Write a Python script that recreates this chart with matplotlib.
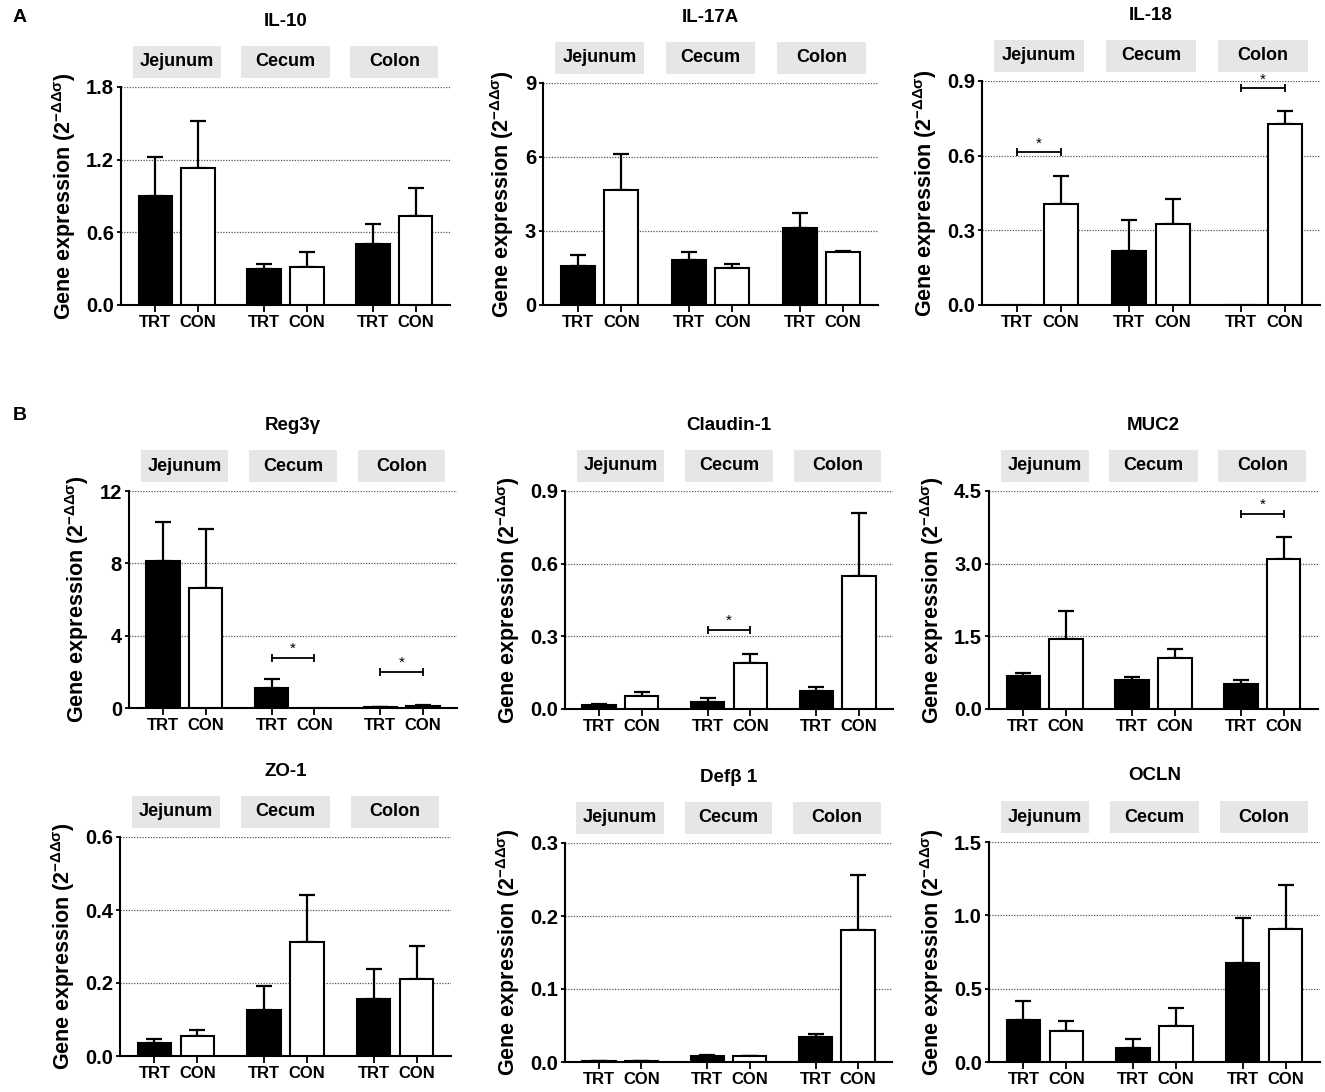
import numpy as np
import matplotlib
matplotlib.use("Agg")
import matplotlib.pyplot as plt
from matplotlib.patches import Rectangle
from matplotlib.transforms import blended_transform_factory

plt.rcParams['font.family'] = ['Liberation Sans', 'DejaVu Sans']
plt.rcParams['font.weight'] = 'bold'
plt.rcParams['axes.labelweight'] = 'bold'
plt.rcParams['mathtext.fontset'] = 'custom'
plt.rcParams['mathtext.rm'] = 'Liberation Sans:bold'
plt.rcParams['mathtext.bf'] = 'Liberation Sans:bold'
plt.rcParams['mathtext.default'] = 'bf'

# data
genes = ['IL-10', 'IL-17A', 'IL-18', 'Reg3γ', 'Claudin-1', 'MUC2', 'ZO-1', 'Defβ 1', 'OCLN']
sites = ['Jejunum', 'Cecum', 'Colon']
groups = ['TRT', 'CON']

trt_mean = [[0.90, 0.295, 0.50], [1.60, 1.82, 3.14], [0.0, 0.218, 0.0],
            [8.12, 1.12, 0.06], [0.018, 0.029, 0.074], [0.688, 0.599, 0.516],
            [0.0365, 0.125, 0.156], [0.0008, 0.0082, 0.0349], [0.287, 0.098, 0.674]]
trt_sem = [[0.325, 0.044, 0.166], [0.42, 0.34, 0.58], [0.0, 0.123, 0.0],
           [2.14, 0.51, 0.01], [0.002, 0.018, 0.017], [0.055, 0.069, 0.076],
           [0.0105, 0.067, 0.083], [0.0002, 0.0008, 0.0036], [0.130, 0.057, 0.305]]
con_mean = [[1.134, 0.317, 0.737], [4.68, 1.52, 2.14], [0.407, 0.327, 0.726],
            [6.65, 0.02, 0.13], [0.055, 0.189, 0.550], [1.452, 1.060, 3.097],
            [0.054, 0.313, 0.210], [0.0008, 0.008, 0.1805], [0.212, 0.244, 0.908]]
con_sem = [[0.386, 0.118, 0.232], [1.44, 0.15, 0.05], [0.111, 0.099, 0.053],
           [3.24, 0.0, 0.05], [0.015, 0.039, 0.258], [0.564, 0.179, 0.461],
           [0.016, 0.127, 0.092], [0.0002, 0.0007, 0.0761], [0.068, 0.127, 0.296]]

y_max = [1.8, 9, 0.9, 12, 0.9, 4.5, 0.6, 0.3, 1.5]
y_fmt = ['%.1f', '%d', '%.1f', '%d', '%.1f', '%.1f', '%.1f', '%.1f', '%.1f']

# significance: (gene index, site index, bracket height)
sig = [(2, 0, 0.613), (2, 2, 0.87), (3, 1, 2.79), (3, 2, 1.98), (4, 1, 0.3275), (5, 2, 4.026)]

# layout (pixels: left, top, right, bottom)
W, H = 1325, 1092
rects = [(121, 87, 450, 305), (543, 83, 878, 305), (982, 81, 1320, 305),
         (129, 491, 457, 708), (565, 491, 893, 709), (989, 491, 1318, 709),
         (120, 837, 451, 1056), (565, 843, 892, 1062), (989, 842, 1320, 1062)]
x_trt = np.array([0.0, 2.55, 5.1])
x_con = x_trt + 1

fig = plt.figure(figsize=(W / 100, H / 100), dpi=100)
axes = []
for i, g in enumerate(genes):
    l, t, r, b = rects[i]
    ax = fig.add_axes([l / W, 1 - b / H, (r - l) / W, (b - t) / H])
    axes.append(ax)
    ax.bar(x_trt, trt_mean[i], width=0.78, color='black', edgecolor='black', lw=1.5, zorder=3)
    ax.bar(x_con, con_mean[i], width=0.78, color='white', edgecolor='black', lw=1.5, zorder=3)
    for xs, m, s in [(x_trt, trt_mean[i], trt_sem[i]), (x_con, con_mean[i], con_sem[i])]:
        for xx, mm, ss in zip(xs, m, s):
            if ss > 0:
                ax.errorbar(xx, mm, yerr=[[0], [ss]], color='black', lw=1.6,
                            capsize=5.5, capthick=1.6, zorder=2)
    ax.set_xlim(-0.8, 6.9)
    ax.set_ylim(0, y_max[i])
    ax.set_yticks(np.linspace(0, y_max[i], 4))
    ax.yaxis.set_major_formatter(matplotlib.ticker.FormatStrFormatter(y_fmt[i]))
    ax.set_xticks(np.concatenate([x_trt, x_con]))
    ax.set_xticklabels(groups[:1] * 3 + groups[1:] * 3)
    ax.grid(axis='y', ls=(0, (1, 1.2)), color='#555555', lw=0.9, zorder=0)
    ax.set_axisbelow(True)
    for sp in ['top', 'right']:
        ax.spines[sp].set_visible(False)
    for sp in ['left', 'bottom']:
        ax.spines[sp].set_linewidth(1.5)
    ax.tick_params(axis='y', length=3, width=1.3, labelsize=14.5, pad=2)
    ax.tick_params(axis='x', length=5, width=1.3, labelsize=12, pad=2)
    for lab in ax.get_xticklabels() + ax.get_yticklabels():
        lab.set_fontweight('bold')
    ax.set_ylabel('Gene expression (2$^{-ΔΔσ}$)', fontsize=15.5, fontweight='bold', labelpad=6)

    # strip boxes with site names
    hpx = b - t
    tr = blended_transform_factory(ax.transData, ax.transAxes)
    for j, s in enumerate(sites):
        xc = (x_trt[j] + x_con[j]) / 2
        ax.add_patch(Rectangle((xc - 1.03, 1 + 9 / hpx), 2.06, 32 / hpx, transform=tr,
                               facecolor='#e6e6e6', edgecolor='none', clip_on=False))
        ax.text(xc, 1 + 25 / hpx, s, transform=tr, ha='center', va='center', fontsize=13,
                fontweight='bold')
    ax.text(0.5, 1 + 66 / hpx, g, transform=ax.transAxes, ha='center', va='center',
            fontsize=13.5, fontweight='bold')

for gi, si, h in sig:
    ax = axes[gi]
    ax.plot([x_trt[si], x_con[si]], [h, h], color='black', lw=1.3, clip_on=False, zorder=4)
    ax.plot([x_trt[si], x_con[si]], [h, h], ls='none', marker='|', ms=6, mew=1.3,
            color='black', clip_on=False, zorder=4)
    ax.annotate('*', xy=((x_trt[si] + x_con[si]) / 2, h), xytext=(0, 1.5),
                textcoords='offset points', ha='center', va='bottom', fontsize=11,
                fontweight='normal', annotation_clip=False)

fig.text(13 / W, 1 - 17 / H, 'A', fontsize=14, fontweight='bold', ha='left', va='center')
fig.text(13 / W, 1 - 415 / H, 'B', fontsize=14, fontweight='bold', ha='left', va='center')

fig.savefig('out.png', dpi=100)
